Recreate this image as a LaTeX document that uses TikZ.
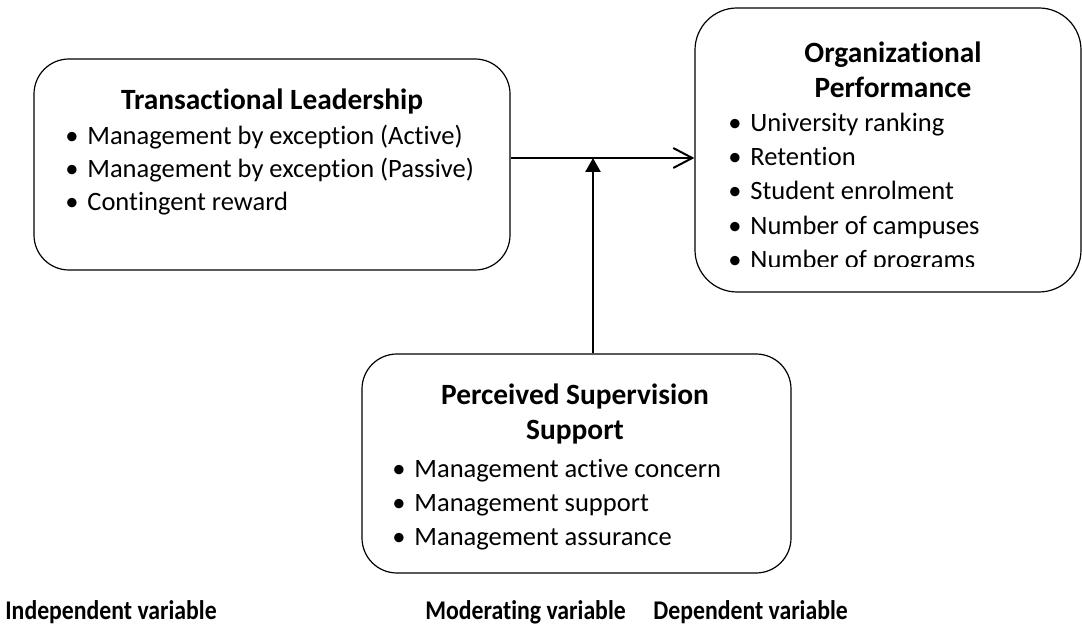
\documentclass[tikz,border=0pt]{standalone}
\usepackage{fontspec}
\setmainfont{Carlito}[Ligatures=NoCommon]
\usetikzlibrary{arrows.meta}
\newcommand\bitem{\makebox[11pt][l]{\textbullet}}
\tikzset{
  varbox/.style={draw, line width=0.6pt, rounded corners=#1, inner sep=0pt},
  vartitle/.style={font=\fontsize{14.7}{17.5}\selectfont\bfseries, align=center, inner sep=0pt},
  varlist/.style={font=\fontsize{13.25}{#1}\selectfont, align=left, anchor=west, inner sep=0pt},
  varlabel/.style={font=\fontsize{13.5}{16}\selectfont\bfseries, anchor=west, inner sep=0pt}
}
\begin{document}
\begin{tikzpicture}[x=0.5pt, y=-0.5pt]
\useasboundingbox (0,0) rectangle (1082,635);
\node[varbox=17.5pt, minimum width=238pt, minimum height=105.5pt] (tl) at (272,164.5) {};
\node[varbox=21pt, minimum width=193pt, minimum height=142pt] (op) at (888,150) {};
\node[varbox=17.5pt, minimum width=214.5pt, minimum height=109.5pt] (ps) at (576.5,463.5) {};
\node[vartitle] (tltitle) at (272,102) {Transactional Leadership};
\node[varlist=16.5] (tllist) at (65,170) {\bitem Management by exception (Active)\\ \bitem Management by exception (Passive)\\ \bitem Contingent reward};
\node[vartitle] (optitle) at (893,69.5) {Organizational\\ Performance};
\begin{scope}
\clip (700,100) rectangle (1082,267);
\node[varlist=17.2] (oplist) at (728,193) {\bitem University ranking\\ \bitem Retention\\ \bitem Student enrolment\\ \bitem Number of campuses\\ \bitem Number of programs};
\end{scope}
\node[vartitle] (pstitle) at (575,414.5) {Perceived Supervision\\ Support};
\node[varlist=16.9] (pslist) at (392,504.5) {\bitem Management active concern\\ \bitem Management support\\ \bitem Management assurance};
\node[varlabel] (indep) at (5,612) {\scalebox{0.88}[1]{Independent variable}};
\node[varlabel] (moder) at (425,612) {\scalebox{0.88}[1]{Moderating variable}};
\node[varlabel] (dep) at (653,612) {\scalebox{0.88}[1]{Dependent variable}};
\coordinate (mid) at (593,158);
\draw[line width=1.3pt, -{Straight Barb[length=9.5pt, width=10pt, line width=1pt]}] (tl.east |- mid) -- (op.west |- mid);
\draw[line width=1.3pt, -{Triangle[length=7pt, width=7.5pt]}] (ps.north -| mid) -- (mid);
\end{tikzpicture}
\end{document}
